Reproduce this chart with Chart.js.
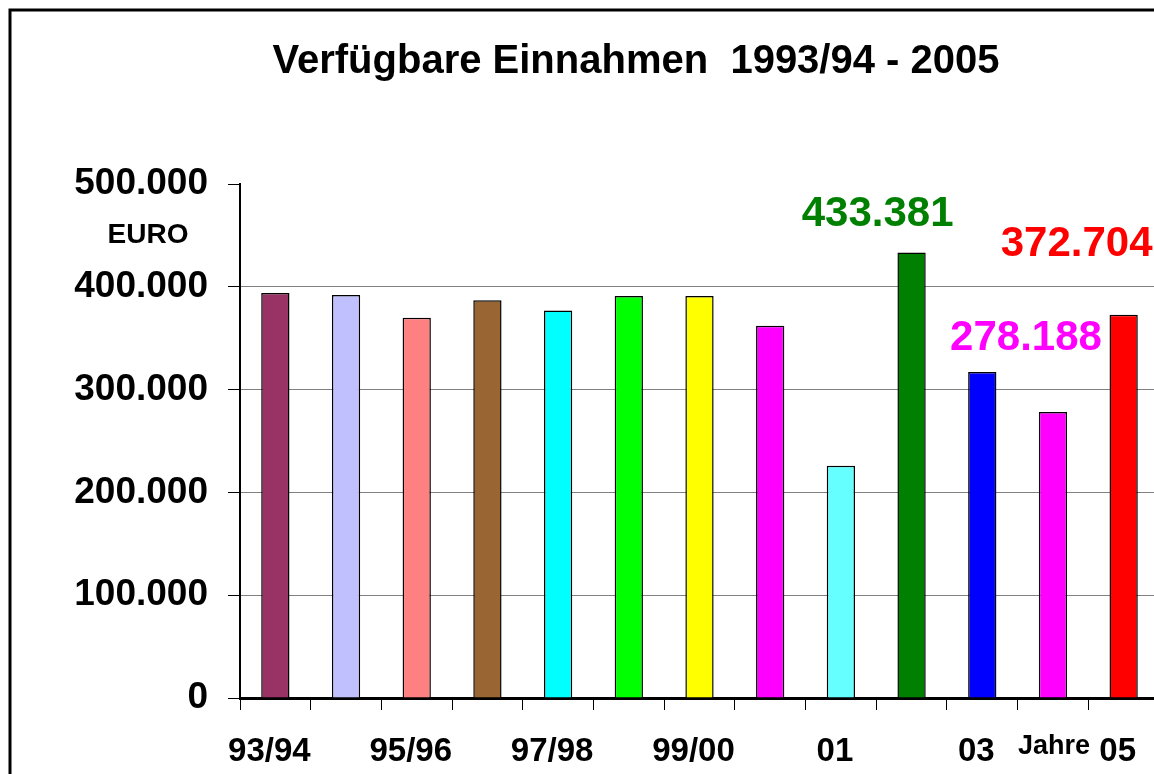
<!DOCTYPE html>
<html>
<head>
<meta charset="utf-8">
<script src="https://cdn.jsdelivr.net/npm/chart.js@4.4.1/dist/chart.umd.min.js"></script>
<style>
  html, body { margin: 0; padding: 0; background: #fff; overflow: hidden; }
  #wrap { width: 1154px; height: 774px; overflow: hidden; position: relative; }
  canvas { display: block; }
</style>
</head>
<body>
<div id="wrap"><canvas id="chart" width="1200" height="774"></canvas></div>
<script>
// ── data ──
const years = ['93/94', '94/95', '95/96', '96/97', '97/98', '98/99', '99/00', '2000', '01', '02', '03', '04', '05'];
const income = [394000, 392000, 370000, 387000, 377000, 391000, 391000, 362000, 226000, 433381, 317000, 278188, 372704];
const barColors = ['#993366', '#C0C0FF', '#FF8080', '#996633', '#00FFFF', '#00FF00', '#FFFF00',
                   '#FF00FF', '#66FFFF', '#008000', '#0000FF', '#FF00FF', '#FF0000'];
const yTicks = [0, 100000, 200000, 300000, 400000, 500000];
// values that get a big coloured label, with label colour
const labelled = [
  { idx: 9,  text: '433.381', color: '#008000', dx: -34, dy: -38 },
  { idx: 11, text: '278.188', color: '#FF00FF', dx: -27, dy: -74 },
  { idx: 12, text: '372.704', color: '#FF0000', dx: -47, dy: -70 },
];

const FONT = "'Liberation Sans', Arial, sans-serif";
const fmt = v => v === 0 ? '0' : v.toLocaleString('de-DE');

// frame, title and loose texts
const decorations = {
  id: 'decorations',
  afterDraw(chart) {
    const ctx = chart.ctx;
    const x = chart.scales.x, y = chart.scales.y;
    ctx.save();
    // outer frame (runs off the right/bottom edge)
    ctx.strokeStyle = '#000';
    ctx.lineWidth = 3;
    ctx.strokeRect(10, 10, 1300, 900);

    ctx.fillStyle = '#000';
    ctx.textAlign = 'center';
    ctx.textBaseline = 'middle';
    ctx.font = 'bold 40px ' + FONT;
    ctx.fillText('Verfügbare Einnahmen  1993/94 - 2005', 636, 62);

    ctx.font = 'bold 28px ' + FONT;
    ctx.fillText('EURO', 148, 235);
    ctx.font = 'bold 27px ' + FONT;
    ctx.fillText('Jahre', 1054, 747);

    ctx.font = 'bold 42px ' + FONT;
    labelled.forEach(l => {
      ctx.fillStyle = l.color;
      ctx.fillText(l.text, x.getPixelForValue(l.idx) + l.dx, y.getPixelForValue(income[l.idx]) + l.dy);
    });
    ctx.restore();
  }
};

new Chart(document.getElementById('chart'), {
  type: 'bar',
  data: {
    labels: years,
    datasets: [{
      data: income,
      backgroundColor: barColors,
      borderColor: '#000',
      borderWidth: 1.5,
      categoryPercentage: 1,
      barPercentage: 0.4,
    }]
  },
  plugins: [decorations],
  options: {
    responsive: false,
    animation: false,
    events: [],
    layout: { padding: { top: 184, right: 41, left: 0, bottom: 0 } },
    plugins: {
      legend: { display: false },
      title: { display: false },
      tooltip: { enabled: false },
    },
    scales: {
      x: {
        grid: { display: true, drawOnChartArea: false, tickLength: 12, tickColor: '#000', tickWidth: 1, offset: true },
        border: { color: '#000', width: 3 },
        ticks: {
          autoSkip: false, maxRotation: 0, color: '#000', padding: 22, labelOffset: -6,
          font: { family: FONT, weight: 'bold', size: 33 },
          callback: (v, i) => i % 2 === 0 ? years[i] : ''
        },
        afterFit: s => { s.height = 76; }
      },
      y: {
        min: 0, max: 500000,
        afterBuildTicks: s => { s.ticks = yTicks.map(v => ({ value: v })); },
        grid: {
          color: c => (c.tick && (c.tick.value === 0 || c.tick.value === 500000)) ? 'rgba(0,0,0,0)' : '#808080',
          lineWidth: 1, tickLength: 12, tickColor: '#000'
        },
        border: { color: '#000', width: 2 },
        ticks: {
          color: '#000', padding: 20,
          font: { family: FONT, weight: 'bold', size: 37 },
          callback: v => fmt(v)
        },
        afterFit: s => { s.width = 240; }
      }
    }
  }
});
</script>
</body>
</html>
